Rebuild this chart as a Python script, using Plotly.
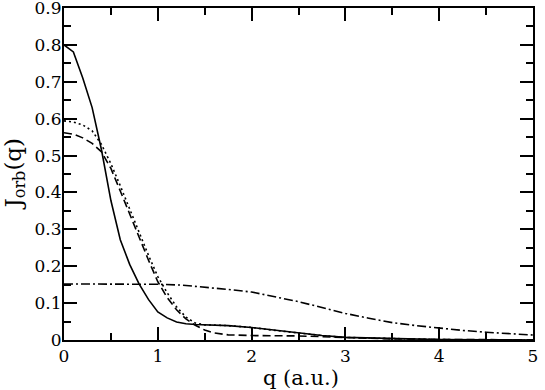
import plotly.graph_objects as go

# ---- data ----
q_solid = [0, 0.1, 0.2, 0.3, 0.4, 0.5, 0.6, 0.7, 0.8, 0.9, 1.0, 1.1, 1.2, 1.3, 1.4,
           1.5, 1.75, 2.0, 2.25, 2.5, 2.75, 3.0, 3.5, 4.0, 4.5, 5.0]
j_solid = [0.800, 0.781, 0.710, 0.630, 0.515, 0.378, 0.272, 0.205, 0.152, 0.110, 0.076,
           0.060, 0.049, 0.044, 0.042, 0.041, 0.039, 0.034, 0.026, 0.018, 0.012, 0.007,
           0.003, 0.001, 0.0005, 0.0]

q_dotted = [0, 0.1, 0.2, 0.3, 0.4, 0.5, 0.6, 0.7, 0.8, 0.9, 1.0, 1.1, 1.2, 1.3, 1.4,
            1.5, 1.75, 2.0, 2.25, 2.5, 2.75, 3.0, 3.5, 4.0, 4.5, 5.0]
j_dotted = [0.594, 0.591, 0.583, 0.567, 0.530, 0.478, 0.418, 0.355, 0.292, 0.230, 0.172,
            0.128, 0.090, 0.062, 0.046, 0.041, 0.039, 0.034, 0.026, 0.018, 0.012, 0.007,
            0.003, 0.001, 0.0005, 0.0]

q_dashed = [0, 0.1, 0.2, 0.3, 0.4, 0.5, 0.6, 0.7, 0.8, 0.9, 1.0, 1.1, 1.2, 1.3, 1.4,
            1.5, 1.6, 1.75, 2.0, 2.5, 3.0, 3.5, 4.0, 4.5, 5.0]
j_dashed = [0.562, 0.558, 0.548, 0.533, 0.510, 0.465, 0.404, 0.340, 0.278, 0.217, 0.158,
            0.115, 0.082, 0.057, 0.040, 0.027, 0.019, 0.014, 0.012, 0.011, 0.007, 0.003,
            0.0015, 0.0008, 0.0005]

q_dashdot = [0, 0.5, 1.0, 1.25, 1.5, 1.75, 2.0, 2.25, 2.5, 2.75, 3.0, 3.25, 3.5, 3.75,
             4.0, 4.25, 4.5, 4.75, 5.0]
j_dashdot = [0.152, 0.152, 0.151, 0.149, 0.144, 0.137, 0.130, 0.118, 0.104, 0.088, 0.072,
             0.059, 0.047, 0.039, 0.032, 0.026, 0.021, 0.017, 0.0135]

x_tickvals = [0, 1, 2, 3, 4, 5]
x_ticktext = ["0", "1", "2", "3", "4", "5"]
y_tickvals = [0, 0.1, 0.2, 0.3, 0.4, 0.5, 0.6, 0.7, 0.8, 0.9]
y_ticktext = ["0", "0.1", "0.2", "0.3", "0.4", "0.5", "0.6", "0.7", "0.8", "0.9"]

x_title = "q (a.u.)"
y_title = "J<sub>orb</sub>(q)"

FONT = "DejaVu Serif"
TOP_SHIFT = 14  # figure is drawn taller at the top and shifted up on the page

fig = go.Figure()
fig.add_trace(go.Scatter(x=q_solid, y=j_solid, mode="lines",
                         line=dict(color="black", width=1.6)))
fig.add_trace(go.Scatter(x=q_dotted, y=j_dotted, mode="lines",
                         line=dict(color="black", width=1.6, dash="2px,3px")))
fig.add_trace(go.Scatter(x=q_dashed, y=j_dashed, mode="lines",
                         line=dict(color="black", width=1.6, dash="8px,4px")))
fig.add_trace(go.Scatter(x=q_dashdot, y=j_dashdot, mode="lines",
                         line=dict(color="black", width=1.6, dash="9px,3px,2px,3px")))

axis_common = dict(
    showgrid=False, zeroline=False, showline=True, linecolor="black", linewidth=2,
    mirror="ticks", ticks="inside", ticklen=13, tickwidth=1.5, tickcolor="black",
    tickfont=dict(family=FONT, size=17, color="black"),
)

fig.update_xaxes(range=[0, 5], tickmode="array", tickvals=x_tickvals, ticktext=x_ticktext,
                 minor=dict(ticks="inside", ticklen=7, dtick=0.5, tick0=0, tickwidth=1.5,
                            tickcolor="black", showgrid=False),
                 **axis_common)
fig.update_yaxes(range=[0, 0.9], tickmode="array", tickvals=y_tickvals, ticktext=y_ticktext,
                 ticklabelstandoff=-3,
                 minor=dict(ticks="inside", ticklen=7, dtick=0.05, tick0=0, tickwidth=1.5,
                            tickcolor="black", showgrid=False),
                 **axis_common)

fig.add_annotation(text=x_title, xref="paper", yref="paper", x=0.506, y=-0.1145,
                   xanchor="center", yanchor="middle", showarrow=False,
                   font=dict(family=FONT, size=21, color="black"))
fig.add_annotation(text=y_title, xref="paper", yref="paper", x=-0.1055, y=0.5,
                   xanchor="center", yanchor="middle", showarrow=False, textangle=-90,
                   font=dict(family=FONT, size=23, color="black"))

fig.update_layout(
    width=545, height=390 + TOP_SHIFT,
    margin=dict(l=64, r=7, t=8 + TOP_SHIFT, b=50),
    plot_bgcolor="white", paper_bgcolor="white",
    showlegend=False,
    font=dict(family=FONT, color="black"),
)

fig.write_html("out.html", config={"displayModeBar": False},
               post_script="document.body.style.margin='0';"
                           "document.body.style.marginTop='-%dpx';" % TOP_SHIFT)
